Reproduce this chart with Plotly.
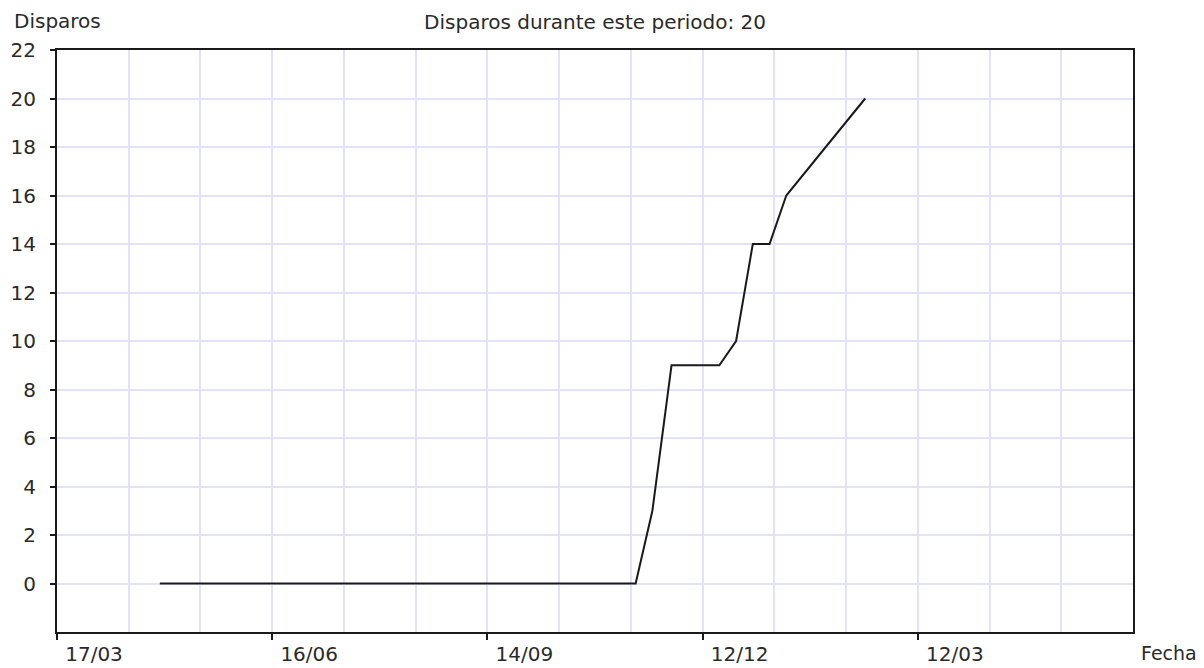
import plotly.graph_objects as go

# Data (cumulative shots)
dates = ["2006-04-29", "2006-11-14", "2006-11-21", "2006-11-29", "2006-12-19",
         "2006-12-26", "2007-01-02", "2007-01-09", "2007-01-16", "2007-02-18"]
disparos = [0, 0, 3, 9, 9, 10, 14, 14, 16, 20]

# Axis ticks
x_tickvals = ["2006-03-17", "2006-06-15", "2006-09-13", "2006-12-12", "2007-03-12"]
x_ticktext = ["17/03", "16/06", "14/09", "12/12", "12/03"]
x_range = ["2006-03-17", "2007-06-10"]
y_tickvals = list(range(0, 23, 2))

FONT = "DejaVu Sans"
TXT = "#2a2a2a"
GRID = "#e2e2ff"

fig = go.Figure()
fig.add_trace(go.Scatter(x=dates, y=disparos, mode="lines",
                         line=dict(color="#1a1a1a", width=2), showlegend=False))

# page body has an 8px margin, so the figure is sized to fill the remaining window
fig.update_layout(
    width=1196, height=660,
    margin=dict(l=49, r=71, t=42, b=36, autoexpand=False),
    paper_bgcolor="white", plot_bgcolor="white",
    font=dict(family=FONT, size=20, color=TXT),
    title=dict(text="Disparos durante este periodo: 20", xref="paper", x=0.5, xanchor="center",
               y=1 - 14 / 660, yanchor="middle", font=dict(family=FONT, size=20, color=TXT)),
)

fig.update_xaxes(
    type="date", range=x_range, automargin=False,
    tickmode="array", tickvals=x_tickvals, ticktext=x_ticktext,
    ticks="outside", ticklen=6, tickwidth=2, tickcolor="#1a1a1a",
    ticklabelshift=37, ticklabelstandoff=-3,
    showline=True, linecolor="#1a1a1a", linewidth=2, mirror=True,
    showgrid=True, gridcolor=GRID, gridwidth=1.5,
    minor=dict(tick0="2006-03-17", dtick=30 * 86400000, showgrid=True,
               gridcolor=GRID, gridwidth=1.5, ticks=""),
    zeroline=False,
    tickfont=dict(family=FONT, size=20, color=TXT),
)

fig.update_yaxes(
    range=[-2, 22], tickmode="array", tickvals=y_tickvals, automargin=False,
    ticks="outside", ticklen=5, tickwidth=2, tickcolor="#1a1a1a",
    ticklabelstandoff=10,
    showline=True, linecolor="#1a1a1a", linewidth=2, mirror=True,
    showgrid=True, gridcolor=GRID, gridwidth=1.5,
    zeroline=False,
    tickfont=dict(family=FONT, size=20, color=TXT),
)

fig.add_annotation(text="Disparos", xref="paper", yref="paper",
                   x=(12 - 57) / 1076, y=(632 - 21.5) / 582,
                   xanchor="left", yanchor="middle", showarrow=False,
                   font=dict(family=FONT, size=20, color=TXT))
fig.add_annotation(text="Fecha", xref="paper", yref="paper",
                   x=(1139 - 57) / 1076, y=(632 - 653) / 582,
                   xanchor="left", yanchor="middle", showarrow=False,
                   font=dict(family=FONT, size=19, color=TXT))

fig.write_html("out.html")
